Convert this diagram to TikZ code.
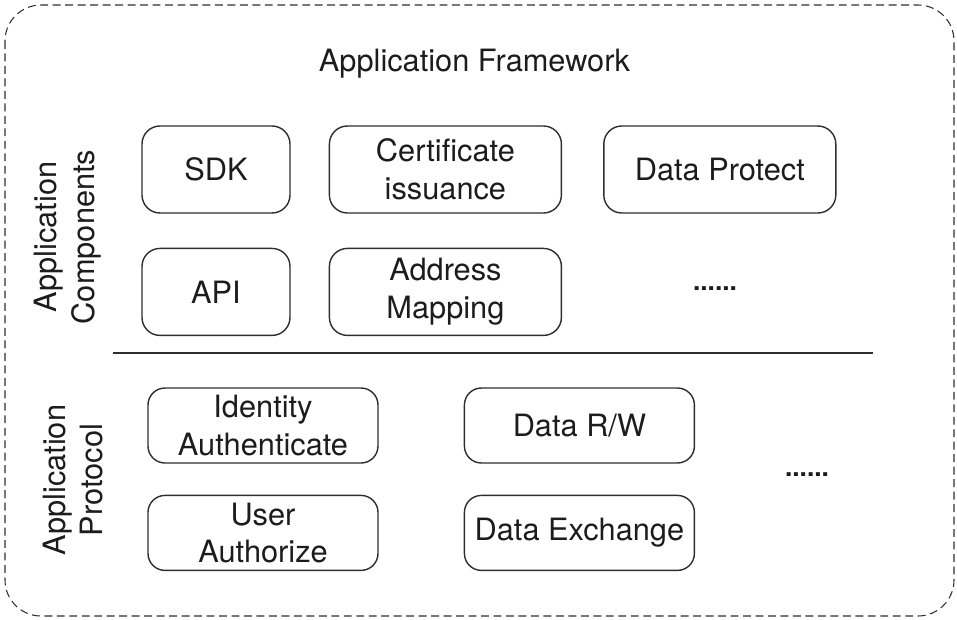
\documentclass[tikz,border=0pt]{standalone}
\usepackage{fontspec}
\setmainfont{TeX Gyre Heros}
\usepackage{tikz}
\usetikzlibrary{positioning}
\definecolor{tinte}{HTML}{1C1C1C}
\definecolor{rand}{HTML}{2E2E2E}

\begin{document}
\begin{tikzpicture}[
        font=\fontsize{17.5}{21.5}\selectfont, text=tinte,
        box/.style={draw=rand, line width=0.8pt, rounded corners=0.36cm,
                    minimum height=1.74cm, inner sep=0pt, align=center},
        smallbox/.style={box, minimum width=2.96cm},
        widebox/.style={box, minimum width=4.64cm},
        protbox/.style={box, minimum width=4.6cm, minimum height=1.5cm,
                        rounded corners=0.34cm},
        seitlich/.style={rotate=90, align=center, inner sep=0pt},
        punkte/.style={font=\fontsize{15}{18}\selectfont\bfseries},
        node distance=0.68cm
      ]
      \useasboundingbox (0,0) rectangle (19.14,-12.38);

      % Rahmen
      \draw[rand, line width=0.6pt, dash pattern=on 4.5pt off 2.6pt,
            rounded corners=0.72cm] (0.1,-0.1) rectangle (19.08,-12.32);

      \node[anchor=base] (titel) at (9.49,-1.42) {Application Framework};

      % Components
      \node[smallbox] (sdk) at (4.32,-3.39) {SDK};
      \node[widebox, right=0.76cm of sdk] (cert) {Certificate\\issuance};
      \node[widebox, right=0.82cm of cert] (dprot) {Data Protect};
      \node[smallbox, below=of sdk] (api) {API};
      \node[widebox, right=0.76cm of api] (addr) {Address\\Mapping};
      \node[punkte] (mehr1) at (14.3,-5.78) {......};
      \node[seitlich] (komp) at (1.36,-4.74) {Application\\Components};

      \coordinate (trennA) at (2.26,-7.06);
      \coordinate (trennB) at (17.46,-7.06);
      \draw[rand, line width=0.75pt] (trennA) -- (trennB);

      % Protocol
      \node[protbox] (ident) at (5.26,-8.51) {Identity\\Authenticate};
      \node[protbox, below=0.62cm of ident] (user) {User\\Authorize};
      \node[protbox, right=1.7cm of ident] (rw) {Data R/W};
      \node[protbox, below=0.62cm of rw] (exch) {Data Exchange};
      \node[punkte] (mehr2) at (16.14,-9.5) {......};
      \node[seitlich] (prot) at (1.46,-9.6) {Application\\Protocol};
    \end{tikzpicture}
\end{document}
